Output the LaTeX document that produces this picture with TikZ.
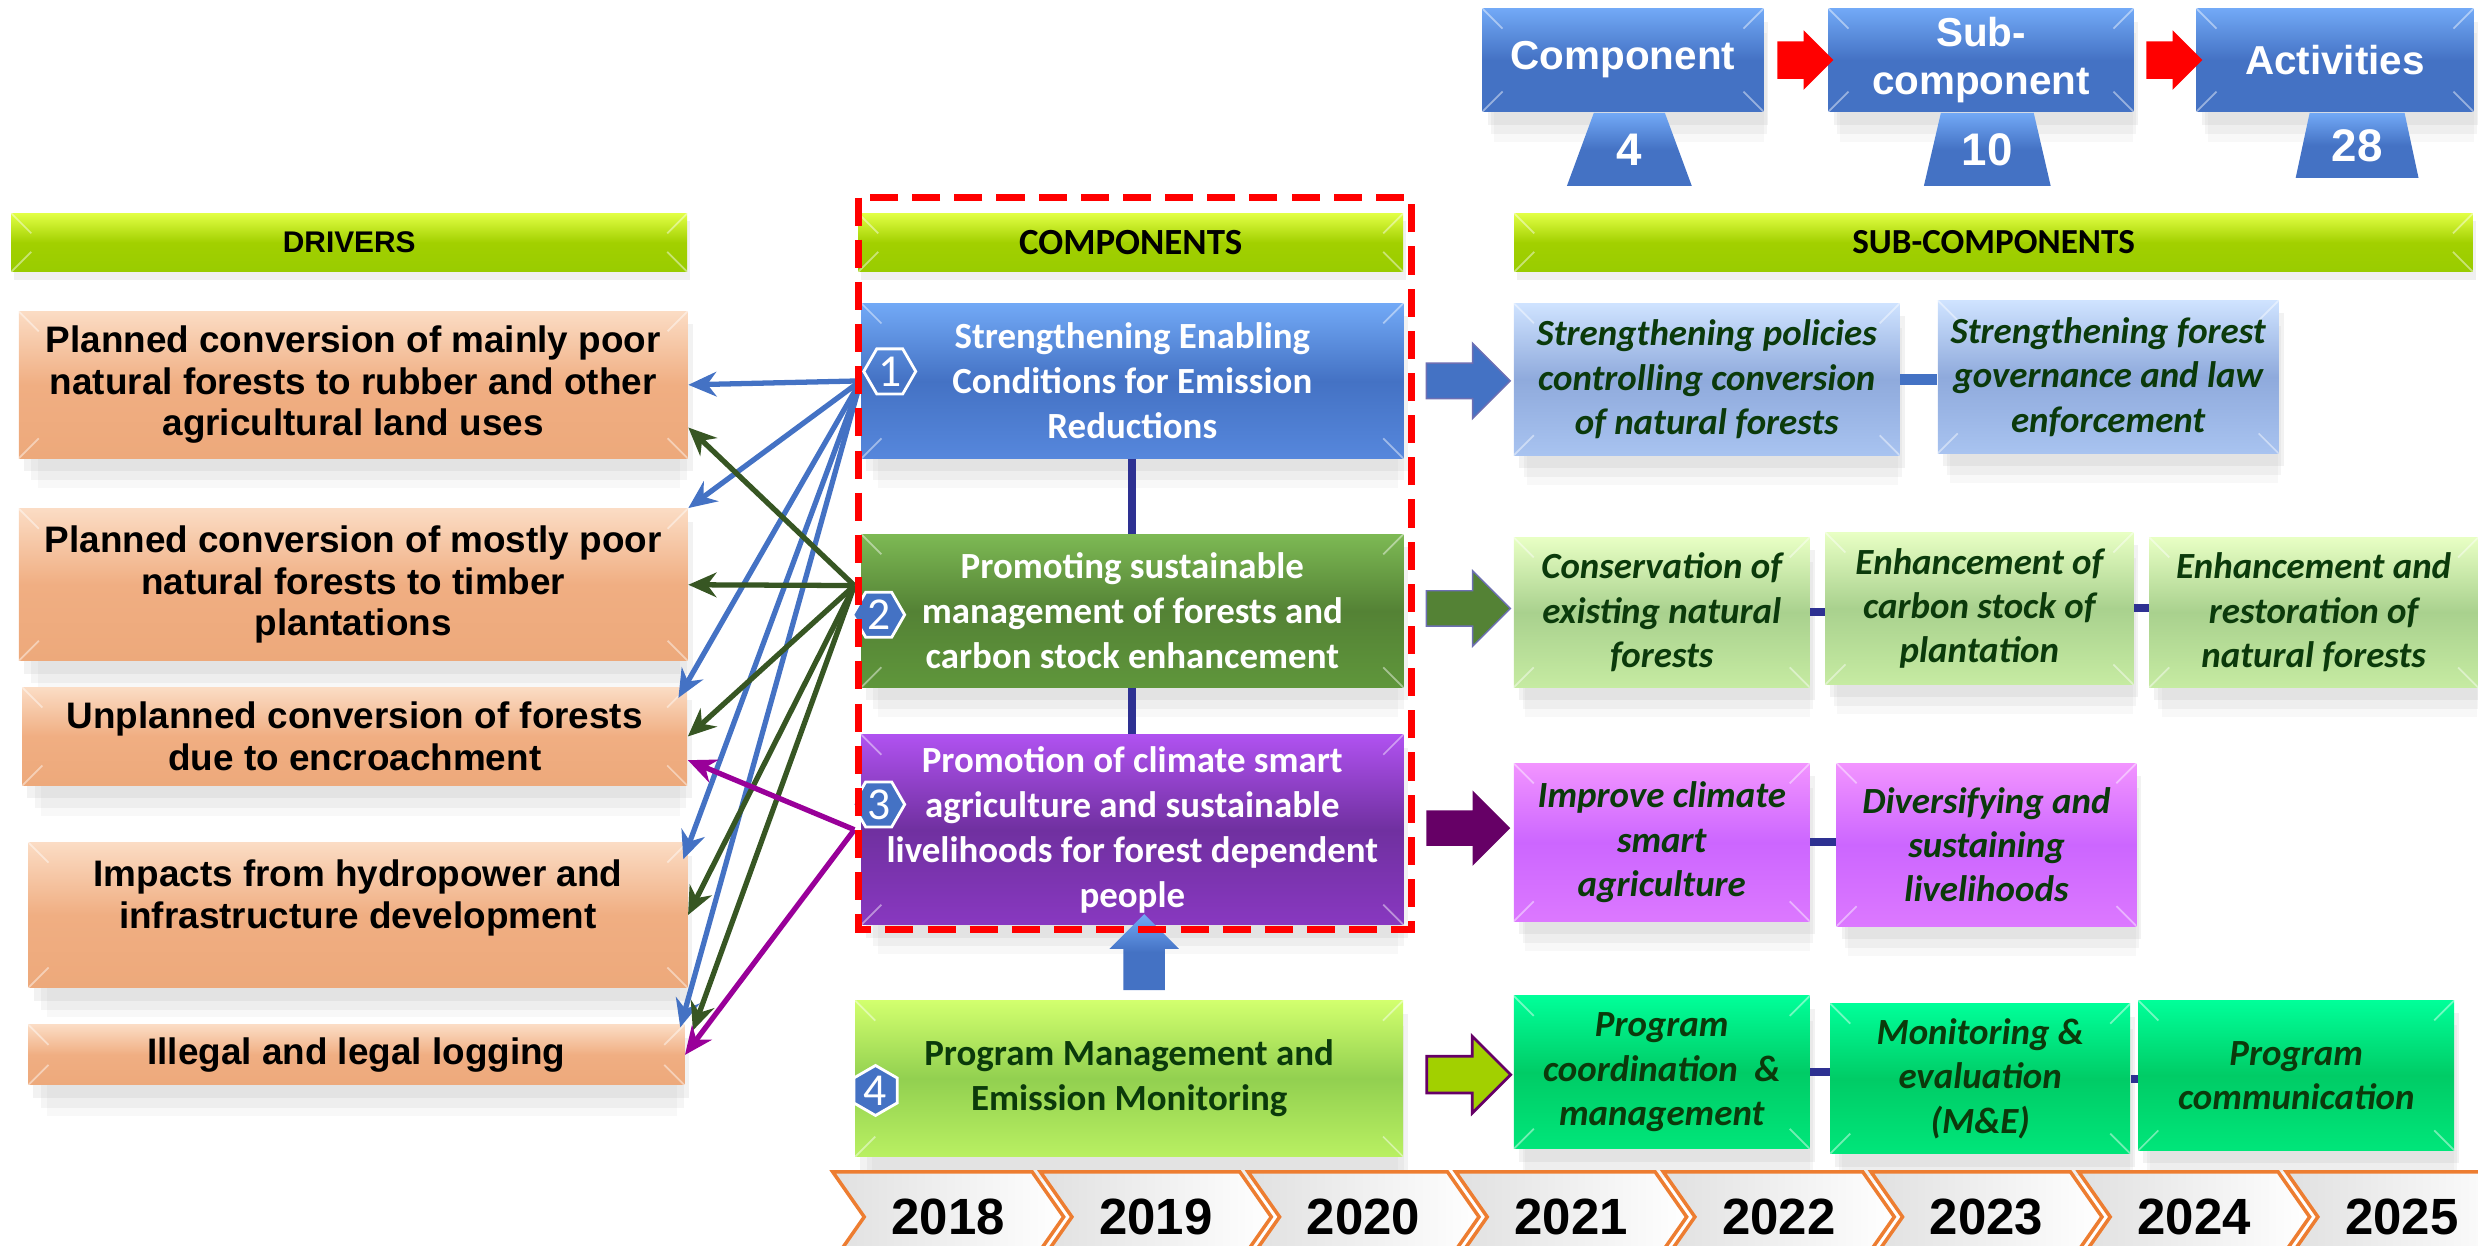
\documentclass[tikz,border=0pt]{standalone}
\usepackage{fontspec}
\setmainfont{Liberation Sans}
\newfontfamily\calibfont{Carlito}
\usetikzlibrary{calc,arrows.meta,shapes.geometric,shapes.arrows,shapes.symbols,shadows}

\definecolor{hdrtop}{HTML}{E2FF45}
\definecolor{hdrmid}{HTML}{A2D000}
\definecolor{hdrbot}{HTML}{99CC00}
\definecolor{drvtop}{HTML}{FBDCC4}
\definecolor{drvmid}{HTML}{F0AE82}
\definecolor{drvbot}{HTML}{EDA97B}
\definecolor{bluetop}{HTML}{72A9F6}
\definecolor{bluemid}{HTML}{4472C4}
\definecolor{bluebot}{HTML}{5687DC}
\definecolor{greentop}{HTML}{7DB954}
\definecolor{greenmid}{HTML}{548235}
\definecolor{greenbot}{HTML}{5F963B}
\definecolor{purptop}{HTML}{B052F0}
\definecolor{purpmid}{HTML}{7030A0}
\definecolor{purpbot}{HTML}{8838C0}
\definecolor{limetop}{HTML}{D2FF6E}
\definecolor{limemid}{HTML}{92D050}
\definecolor{limebot}{HTML}{B9F062}
\definecolor{sbluetop}{HTML}{CFE3FF}
\definecolor{sbluemid}{HTML}{8FAADC}
\definecolor{sbluebot}{HTML}{A8C3F0}
\definecolor{sgreentop}{HTML}{E8FFC4}
\definecolor{sgreenmid}{HTML}{A9D18E}
\definecolor{sgreenbot}{HTML}{C6EBA2}
\definecolor{spinktop}{HTML}{F294FF}
\definecolor{spinkmid}{HTML}{CC66FF}
\definecolor{spinkbot}{HTML}{DC78FF}
\definecolor{sminttop}{HTML}{00FF99}
\definecolor{smintmid}{HTML}{00CC66}
\definecolor{smintbot}{HTML}{00E67A}
\definecolor{subtext}{HTML}{0B3A0B}
\definecolor{linkblue}{HTML}{2E3192}
\definecolor{arrblue}{HTML}{4472C4}
\definecolor{arrgreen}{HTML}{375623}
\definecolor{arrpurple}{HTML}{990099}
\definecolor{darkpurple}{HTML}{660066}
\definecolor{yearorange}{HTML}{ED7D31}

\tikzset{
  bevel/.style={path picture={
    \draw[white, opacity=.45, line width=.5pt]
      (path picture bounding box.north west) -- ++(.2cm,-.2cm)
      (path picture bounding box.north east) -- ++(-.2cm,-.2cm)
      (path picture bounding box.south west) -- ++(.2cm,.2cm)
      (path picture bounding box.south east) -- ++(-.2cm,.2cm);}},
  shade3/.style n args={3}{top color=#1, bottom color=#3, middle color=#2},
  box/.style={bevel, align=center, inner sep=1pt,
    drop shadow={opacity=.06, shadow xshift=.06cm, shadow yshift=-.34cm, shadow scale=.96},
    drop shadow={opacity=.08, shadow xshift=.06cm, shadow yshift=-.24cm, shadow scale=.98},
    drop shadow={opacity=.10, shadow xshift=.05cm, shadow yshift=-.13cm}}
}

\begin{document}
\begin{tikzpicture}[x=0.015804cm, y=-0.015804cm,
  hdr/.style={bevel, shade3={hdrtop}{hdrmid}{hdrbot}, minimum height=0.585cm, inner sep=0pt,
    drop shadow={opacity=.12, shadow xshift=.03cm, shadow yshift=-.08cm}},
  drv/.style={box, shade3={drvtop}{drvmid}{drvbot},
    font=\bfseries\fontsize{10.5}{11.8}\selectfont},
  comp/.style={box, text=white, minimum width=5.42cm,
    font=\calibfont\bfseries\fontsize{10.5}{12.8}\selectfont},
  sub/.style={box, text=subtext,
    font=\calibfont\bfseries\itshape\fontsize{10.5}{12.6}\selectfont},
  badge/.style={regular polygon, regular polygon sides=6, draw=white, line width=.8pt,
    minimum size=0.52cm, inner sep=0pt, text=white, font=\calibfont\fontsize{13}{13}\selectfont},
  topbox/.style={box, shade3={bluetop}{bluemid}{bluemid}, text=white, minimum height=1.03cm,
    font=\bfseries\fontsize{11.5}{13.4}\selectfont},
  pedestal/.style={trapezium, trapezium stretches=true, shade3={bluetop}{bluemid}{bluemid},
    text=white, inner sep=0pt, font=\bfseries\fontsize{13}{13}\selectfont},
  link/.style={draw=linkblue, line width=2.3pt},
  drvarrow/.style={line width=1.5pt, -{Stealth[length=8pt,width=7pt]}},
  blockarr/.style={single arrow, single arrow head extend=0.2cm, single arrow head indent=0pt,
    minimum height=0.84cm, inner sep=0.17cm},
  redarrow/.style={single arrow, single arrow head extend=0.11cm, single arrow head indent=0pt,
    minimum height=0.55cm, inner sep=0.18cm, fill=red},
  year/.style={signal, signal from=west, signal to=east, signal pointer angle=110,
    draw=yearorange, line width=1pt, left color=black!12, right color=white,
    minimum width=2.31cm, minimum height=0.9cm, inner sep=0pt,
    font=\bfseries\fontsize{14.5}{14.5}\selectfont}
]

  \useasboundingbox (0,0) rectangle (1568,788);
  \clip (0,0) rectangle (1568,788);

  % headers
  \node[hdr, minimum width=6.76cm, font=\bfseries\fontsize{8.5}{8.5}\selectfont] (hdrv) at (221,153.5) {DRIVERS};
  \node[hdr, minimum width=5.45cm, font=\calibfont\bfseries\fontsize{10.5}{10.5}\selectfont] (hcomp) at (715.5,153.5) {COMPONENTS};
  \node[hdr, minimum width=9.59cm, font=\calibfont\bfseries\fontsize{10}{10}\selectfont] (hsub) at (1261.5,153.5) {SUB-COMPONENTS};

  % top counts
  \node[topbox, minimum width=2.81cm] (tcomp) at (1027,38) {Component};
  \node[topbox, minimum width=3.05cm] (tsub) at (1253.5,38) {Sub-\\component};
  \node[topbox, minimum width=2.77cm] (tact) at (1477.5,38) {Activities};
  \node[pedestal, anchor=north, minimum width=1.25cm, minimum height=0.73cm, trapezium angle=73] (ncomp) at ($(tcomp.south)+(4,0)$) {4};
  \node[pedestal, anchor=north, minimum width=1.27cm, minimum height=0.73cm, trapezium angle=74] (nsub) at ($(tsub.south)+(4,0)$) {10};
  \node[pedestal, anchor=north, minimum width=1.23cm, minimum height=0.65cm, trapezium angle=77] (nact) at ($(tact.south)+(14,0)$) {28};
  \node[redarrow] (r1) at ($(tcomp.east)!0.5!(tsub.west)$) {};
  \node[redarrow] (r2) at ($(tsub.east)!0.5!(tact.west)$) {};

  % drivers
  \node[drv, minimum width=6.69cm, minimum height=1.47cm] (d1) at (223.5,243.5)
    {Planned conversion of mainly poor\\natural forests to rubber and other\\agricultural land uses};
  \node[drv, minimum width=6.69cm, minimum height=1.52cm] (d2) at (223.5,370)
    {Planned conversion of mostly poor\\natural forests to timber\\plantations};
  \node[drv, minimum width=6.65cm, minimum height=0.98cm] (d3) at (224.5,466)
    {Unplanned conversion of forests\\due to encroachment};
  \node[drv, minimum width=6.59cm, minimum height=1.45cm] (d4) at (226.5,579)
    {Impacts from hydropower and\\infrastructure development\\ \mbox{}};
  \node[drv, minimum width=6.56cm, minimum height=0.60cm] (d5) at (225.5,667.5)
    {Illegal and legal logging};

  % components
  \node[comp, shade3={bluetop}{bluemid}{bluebot}, minimum height=1.55cm] (c1) at (716.5,241)
    {Strengthening Enabling\\Conditions for Emission\\Reductions};
  \node[comp, shade3={greentop}{greenmid}{greenbot}, minimum height=1.53cm] (c2) at (716.5,386.5)
    {Promoting sustainable\\management of forests and\\carbon stock enhancement};
  \node[comp, shade3={purptop}{purpmid}{purpbot}, minimum height=1.90cm] (c3) at (716.5,525)
    {Promotion of climate smart\\agriculture and sustainable\\livelihoods for forest dependent\\people};
  \node[comp, shade3={limetop}{limemid}{limebot}, text=subtext, minimum width=5.48cm, minimum height=1.56cm] (c4) at (714.5,682.5)
    {Program Management and\\Emission Monitoring};

  \node[badge] (b1) at (563,235) {1};
  \node[badge, fill=bluemid] (b2) at (556,389) {2};
  \node[badge, fill=bluemid] (b3) at (556,509) {3};
  \node[badge, fill=bluemid, shape border rotate=90, minimum size=0.5cm] (b4) at (554,690) {4};

  \draw[link] (c1) -- (c2);
  \draw[link] (c2) -- (c3);
  \node[blockarr, shape border rotate=90, minimum height=0.76cm, inner sep=0.2cm,
    single arrow head extend=0.14cm, shade3={bluetop}{bluemid}{bluemid}] (up4) at (724,609) {};

  % sub-components
  \node[sub, shade3={sbluetop}{sbluemid}{sbluebot}, minimum width=3.86cm, minimum height=1.52cm] (s11) at (1080,240)
    {Strengthening policies\\controlling conversion\\of natural forests};
  \node[sub, shade3={sbluetop}{sbluemid}{sbluebot}, minimum width=3.41cm, minimum height=1.53cm] (s12) at (1334,238.5)
    {Strengthening forest\\governance and law\\enforcement};
  \node[sub, shade3={sgreentop}{sgreenmid}{sgreenbot}, minimum width=2.96cm, minimum height=1.50cm] (s21) at (1051.5,387.5)
    {Conservation of\\existing natural\\forests};
  \node[sub, shade3={sgreentop}{sgreenmid}{sgreenbot}, minimum width=3.08cm, minimum height=1.52cm] (s22) at (1252.5,385)
    {Enhancement of\\carbon stock of\\plantation};
  \node[sub, shade3={sgreentop}{sgreenmid}{sgreenbot}, minimum width=3.29cm, minimum height=1.50cm] (s23) at (1464,387.5)
    {Enhancement and\\restoration of\\natural forests};
  \node[sub, shade3={spinktop}{spinkmid}{spinkbot}, minimum width=2.96cm, minimum height=1.58cm] (s31) at (1051.5,533)
    {Improve climate\\smart\\agriculture};
  \node[sub, shade3={spinktop}{spinkmid}{spinkbot}, minimum width=3.0cm, minimum height=1.63cm] (s32) at (1257,534.5)
    {Diversifying and\\sustaining\\livelihoods};
  \node[sub, shade3={sminttop}{smintmid}{smintbot}, minimum width=2.96cm, minimum height=1.53cm] (s41) at (1051.5,678.5)
    {Program\\coordination~ \&\\management};
  \node[sub, shade3={sminttop}{smintmid}{smintbot}, minimum width=3.0cm, minimum height=1.50cm] (s42) at (1253,682.5)
    {Monitoring \&\\evaluation\\(M\&E)};
  \node[sub, shade3={sminttop}{smintmid}{smintbot}, minimum width=3.16cm, minimum height=1.50cm] (s43) at (1453,680.5)
    {Program\\communication};

  \draw[line width=3pt, draw=arrblue] (s11.east) -- (s11.east -| s12.west);
  \draw[link] (s21.east) -- (s21.east -| s22.west);
  \draw[link] (s22.east) -- (s22.east -| s23.west);
  \draw[link] (s31.east) -- (s31.east -| s32.west);
  \draw[link] (s41.east) -- (s41.east -| s42.west);
  \draw[link] (s42.east) -- (s42.east -| s43.west);

  % block arrows to sub-components
  \node[blockarr, fill=bluemid, draw=linkblue!70] (a1) at (923.5,241) {};
  \node[blockarr, fill=greenmid, draw=linkblue!70] (a2) at (923.5,385) {};
  \node[blockarr, fill=darkpurple] (a3) at (923.5,524) {};
  \node[blockarr, fill=hdrmid, draw=darkpurple, line width=.8pt] (a4) at (923.5,680) {};

  % drivers addressed by each component
  \draw[drvarrow, arrblue] (c1.west) -- (d1.east);
  \draw[drvarrow, arrblue] (c1.west) -- (d2.north east);
  \draw[drvarrow, arrblue] (c1.west) -- ($(d3.north east)+(-6,7)$);
  \draw[drvarrow, arrblue] (c1.west) -- ($(d4.north east)+(-3,11)$);
  \draw[drvarrow, arrblue] (c1.west) -- ($(d5.north east)+(-3,2)$);
  \draw[drvarrow, arrgreen] ($(c2.west)+(-4,-16)$) -- ($(d1.east)+(0,27)$);
  \draw[drvarrow, arrgreen] ($(c2.west)+(-4,-16)$) -- (d2.east);
  \draw[drvarrow, arrgreen] ($(c2.west)+(-4,-16)$) -- (d3.east);
  \draw[drvarrow, arrgreen] ($(c2.west)+(-4,-16)$) -- (d4.east);
  \draw[drvarrow, arrgreen] ($(c2.west)+(-4,-16)$) -- ($(d5.north east)+(5,4)$);
  \draw[drvarrow, arrpurple] ($(c3.west)+(-4,0)$) -- ($(d3.east)+(0,15)$);
  \draw[drvarrow, arrpurple] ($(c3.west)+(-4,0)$) -- (d5.east);

  \draw[red, line width=2pt, dash pattern=on 8pt off 4pt] (543,125) rectangle (893,588);

  % years
  \foreach \yr [count=\i from 0] in {2018,2019,2020,2021,2022,2023,2024,2025}
    \node[year] (y\yr) at (600+131.4*\i,770) {\yr};

\end{tikzpicture}
\end{document}
